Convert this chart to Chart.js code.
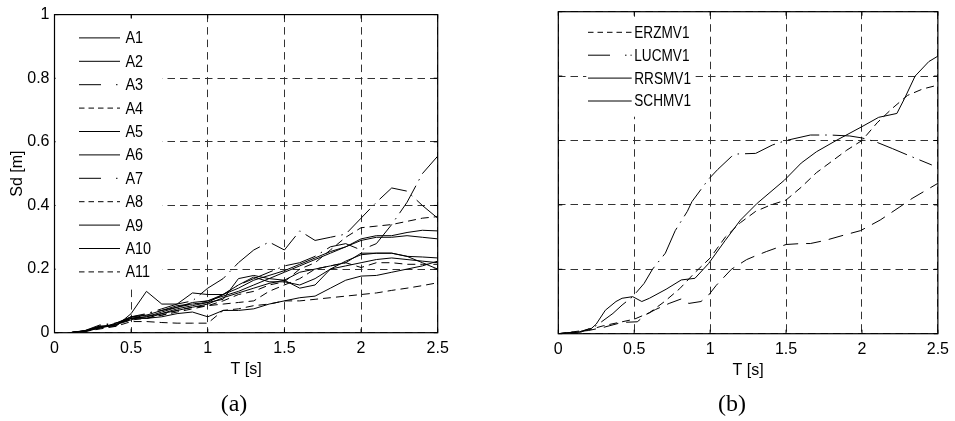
<!DOCTYPE html>
<html>
<head>
<meta charset="utf-8">
<title>Sd spectra</title>
<script src="https://cdn.jsdelivr.net/npm/chart.js@4.4.1/dist/chart.umd.min.js"></script>
<style>
  html, body { margin: 0; padding: 0; background: #fff; }
  body { width: 955px; height: 421px; position: relative; overflow: hidden; }
  .panel { position: absolute; top: 0; height: 421px; }
  #panel-a { left: 0; width: 480px; }
  #panel-b { left: 480px; width: 475px; }
  .caption {
    position: absolute; transform: translate(-50%, -50%);
    font: 24px "Liberation Serif", "Times New Roman", serif;
    line-height: 1; color: #000; white-space: nowrap;
  }
</style>
</head>
<body>
<div class="panel" id="panel-a"><canvas id="chart-a"></canvas></div>
<div class="panel" id="panel-b"><canvas id="chart-b"></canvas></div>
<div class="caption" style="left:234px; top:403px">(a)</div>
<div class="caption" style="left:732px; top:403px">(b)</div>
<script>
'use strict';

/* ---- axes ---- */
const X_TICKS = [0, 0.5, 1, 1.5, 2, 2.5];
const X_TICK_LABELS = ['0', '0.5', '1', '1.5', '2', '2.5'];
const Y_TICKS = [0, 0.2, 0.4, 0.6, 0.8, 1];
const Y_TICK_LABELS = ['0', '0.2', '0.4', '0.6', '0.8', '1'];

/* ---- panel (a): records A1..A11, Sd [m] per period T [s] ---- */
const T_A = [0.1, 0.2, 0.3, 0.4, 0.5, 0.6, 0.7, 0.8, 0.9, 1.0, 1.1, 1.2, 1.3,
  1.4, 1.5, 1.6, 1.7, 1.8, 1.9, 2.0, 2.1, 2.2, 2.3, 2.4, 2.5];
const A1 = [0, .006, .02, .022, .05, .055, .07, .085, .09, .095, .12, .14, .165, .18, .195, .215, .235, .255, .27, .295, .305, .305, .315, .322, .32];
const A2 = [0, .005, .018, .025, .045, .05, .065, .08, .095, .1, .115, .13, .15, .17, .19, .21, .23, .25, .27, .29, .3, .3, .305, .3, .295];
const A3 = [0, .006, .022, .03, .04, .06, .075, .09, .1, .14, .17, .22, .26, .285, .26, .32, .29, .3, .31, .36, .41, .455, .445, .4, .36];
const A4 = [0, .004, .012, .02, .035, .035, .032, .03, .03, .03, .07, .075, .085, .09, .1, .1, .105, .11, .115, .12, .125, .133, .14, .148, .157];
const A5 = [0, .005, .015, .025, .05, .045, .06, .07, .08, .09, .11, .125, .14, .155, .165, .19, .2, .21, .22, .25, .25, .25, .24, .238, .235];
const A6 = [0, .005, .02, .025, .045, .05, .06, .075, .085, .095, .105, .17, .18, .17, .165, .14, .15, .2, .21, .22, .23, .235, .23, .225, .22];
const A7 = [0, .007, .025, .03, .05, .06, .07, .08, .09, .1, .12, .15, .17, .19, .21, .22, .24, .27, .28, .26, .28, .34, .41, .5, .555];
const A8 = [0, .005, .015, .028, .05, .055, .055, .065, .075, .085, .1, .12, .13, .15, .16, .2, .22, .26, .3, .33, .335, .34, .35, .36, .365];
const A9 = [0, .006, .02, .02, .06, .13, .09, .09, .125, .12, .12, .15, .175, .16, .16, .15, .17, .2, .225, .245, .25, .25, .24, .22, .2];
const A10 = [0, .004, .015, .03, .045, .045, .05, .06, .065, .05, .07, .07, .075, .09, .1, .11, .115, .14, .165, .178, .18, .19, .2, .21, .225];
const A11 = [0, .005, .018, .025, .04, .045, .055, .07, .08, .085, .09, .095, .1, .13, .15, .17, .2, .21, .22, .205, .22, .22, .215, .215, .215];
const NAMES_A = ['A1', 'A2', 'A3', 'A4', 'A5', 'A6', 'A7', 'A8', 'A9', 'A10', 'A11'];
const VALUES_A = [A1, A2, A3, A4, A5, A6, A7, A8, A9, A10, A11];
const STYLE_A = ['solid', 'solid', 'dashdot', 'dash', 'solid', 'solid', 'dashdot', 'dash', 'solid', 'solid', 'dash'];

/* ---- panel (b): four stations ---- */
const T_ERZ = [0, .2, .3, .4, .5, .6, .7, .8, .9, 1.0, 1.1, 1.2, 1.3, 1.4, 1.5, 1.6, 1.7, 1.8, 1.9, 2.0, 2.1, 2.2, 2.3, 2.4, 2.5];
const V_ERZ = [0, .012, .025, .035, .045, .065, .1, .14, .19, .235, .3, .345, .38, .4, .415, .455, .5, .535, .57, .6, .655, .7, .74, .76, .772];
const T_LUC = [0, .15, .25, .36, .42, .49, .565, .62, .705, .77, .85, .88, .99, 1.05, 1.14, 1.17, 1.3, 1.41, 1.5, 1.66, 1.79, 1.92, 2.0, 2.09, 2.2, 2.3, 2.46];
const V_LUC = [0, .005, .025, .063, .089, .115, .156, .2, .25, .32, .38, .41, .48, .51, .55, .558, .56, .586, .6, .617, .617, .614, .608, .596, .575, .555, .524];
const T_RRS = [0, .14, .22, .25, .31, .38, .42, .49, .55, .6, .71, .81, .9, .99, 1.1, 1.2, 1.31, 1.49, 1.6, 1.7, 1.83, 2.0, 2.11, 2.23, 2.28, 2.35, 2.44, 2.5];
const V_RRS = [0, .006, .017, .03, .073, .1, .11, .115, .1, .11, .138, .167, .172, .218, .29, .353, .405, .477, .53, .565, .6, .643, .672, .684, .73, .8, .845, .862];
const T_SCH = [0, .2, .3, .42, .52, .58, .64, .73, .81, .86, .94, .99, 1.04, 1.14, 1.24, 1.29, 1.37, 1.5, 1.6, 1.66, 1.76, 1.88, 1.99, 2.03, 2.12, 2.25, 2.33, 2.5];
const V_SCH = [0, .01, .02, .035, .037, .06, .075, .094, .108, .094, .1, .12, .15, .2, .23, .24, .255, .277, .28, .28, .29, .306, .32, .33, .353, .394, .42, .467];
const NAMES_B = ['ERZMV1', 'LUCMV1', 'RRSMV1', 'SCHMV1'];
const TIMES_B = [T_ERZ, T_LUC, T_RRS, T_SCH];
const VALUES_B = [V_ERZ, V_LUC, V_RRS, V_SCH];
const STYLE_B = ['dash', 'dashdot', 'solid', 'longdash'];
const KEY_STYLE_B = ['dash', 'dashdot', 'solid', 'solid'];

/* dash patterns on the curves and on the key samples */
const PLOT_DASH = { solid: [], dash: [8, 5], dashdot: [32, 6, 1.5, 6], longdash: [15, 8] };
const KEY_DASH = { solid: [], dash: [5.5, 4], dashdot: [22, 15, 1.5, 4], longdash: [15, 8] };

const GRID_COLOR = '#333';
const GRID_DASH = [7.5, 5];

Chart.defaults.font.family = '"Liberation Sans", Arial, sans-serif';
Chart.defaults.font.size = 16;
Chart.defaults.color = '#000';

/* box around the axes plus MATLAB-style inward ticks */
const framePlugin = {
  id: 'frame',
  afterDatasetsDraw(chart) {
    const { ctx, chartArea: a, scales } = chart;
    const len = 4;
    ctx.save();
    ctx.strokeStyle = '#000';
    ctx.lineWidth = 1;
    ctx.beginPath();
    scales.x.ticks.forEach((t) => {
      const px = scales.x.getPixelForValue(t.value);
      ctx.moveTo(px, a.bottom); ctx.lineTo(px, a.bottom - len);
      ctx.moveTo(px, a.top); ctx.lineTo(px, a.top + len);
    });
    scales.y.ticks.forEach((t) => {
      const py = scales.y.getPixelForValue(t.value);
      ctx.moveTo(a.left, py); ctx.lineTo(a.left + len, py);
      ctx.moveTo(a.right, py); ctx.lineTo(a.right - len, py);
    });
    ctx.stroke();
    ctx.restore();
  },
  afterDraw(chart) {
    const { ctx, chartArea: a } = chart;
    ctx.save();
    ctx.strokeStyle = '#000';
    ctx.lineWidth = 1.2;
    ctx.strokeRect(a.left, a.top, a.right - a.left, a.bottom - a.top);
    ctx.restore();
  },
};

/* key drawn inside the axes on a white patch (no border) */
const keyPlugin = {
  id: 'key',
  afterDatasetsDraw(chart, args, o) {
    const { ctx, chartArea: a } = chart;
    ctx.save();
    ctx.fillStyle = '#fff';
    ctx.fillRect(a.left + o.boxX, a.top + o.boxTop, o.boxW, o.boxH);
    ctx.font = `${o.fontSize}px "Liberation Sans", Arial, sans-serif`;
    ctx.textBaseline = 'middle';
    ctx.textAlign = 'left';
    chart.data.datasets.forEach((ds, i) => {
      const y = a.top + o.firstRow + i * o.rowGap;
      ctx.strokeStyle = '#000';
      ctx.lineWidth = 1;
      ctx.setLineDash(ds.keyDash);
      ctx.beginPath();
      ctx.moveTo(a.left + o.lineX0, y);
      ctx.lineTo(a.left + o.lineX1, y);
      ctx.stroke();
      ctx.setLineDash([]);
      ctx.save();
      ctx.translate(a.left + o.textX, y + 1);
      ctx.scale(o.squeeze, 1);
      ctx.fillStyle = '#000';
      ctx.fillText(ds.label, 0, 0);
      ctx.restore();
    });
    ctx.restore();
  },
};

function scalesFor(p) {
  return {
    x: {
      type: 'linear', min: 0, max: 2.5,
      afterBuildTicks: (s) => { s.ticks = X_TICKS.map((v) => ({ value: v })); },
      afterFit: (s) => { s.height = p.xAxisHeight; },
      ticks: { callback: (v, i) => X_TICK_LABELS[i], padding: 6, maxRotation: 0, autoSkip: false },
      grid: { color: GRID_COLOR, lineWidth: 1, drawTicks: false },
      border: { display: false, dash: GRID_DASH },
      title: { display: true, text: 'T [s]', font: { size: 16 }, padding: { top: 0, bottom: p.xTitlePad } },
    },
    y: {
      type: 'linear', min: 0, max: 1,
      afterBuildTicks: (s) => { s.ticks = Y_TICKS.map((v) => ({ value: v })); },
      afterFit: (s) => { s.width = p.yAxisWidth; },
      ticks: { display: p.yLabels, callback: (v, i) => Y_TICK_LABELS[i], padding: 5 },
      grid: { color: GRID_COLOR, lineWidth: 1, drawTicks: false },
      border: { display: false, dash: GRID_DASH },
      title: { display: p.yLabels, text: 'Sd [m]', font: { size: 16 }, padding: { top: 8, bottom: 0 } },
    },
  };
}

function makeChart(id, datasets, p) {
  return new Chart(document.getElementById(id), {
    type: 'line',
    data: { datasets },
    options: {
      responsive: true,
      maintainAspectRatio: false,
      animation: false,
      parsing: false,
      layout: { padding: p.padding },
      elements: { point: { radius: 0 }, line: { tension: 0, borderWidth: 1 } },
      plugins: { legend: { display: false }, tooltip: { enabled: false }, key: p.key },
      scales: scalesFor(p),
    },
    plugins: [framePlugin, keyPlugin],
  });
}

const datasetsA = NAMES_A.map((name, i) => ({
  label: name,
  data: T_A.map((t, j) => ({ x: t, y: VALUES_A[i][j] })),
  borderColor: '#000',
  borderDash: PLOT_DASH[STYLE_A[i]],
  keyDash: KEY_DASH[STYLE_A[i]],
  fill: false,
}));

const datasetsB = NAMES_B.map((name, i) => ({
  label: name,
  data: TIMES_B[i].map((t, j) => ({ x: t, y: VALUES_B[i][j] })),
  borderColor: '#000',
  borderDash: PLOT_DASH[STYLE_B[i]],
  keyDash: KEY_DASH[KEY_STYLE_B[i]],
  fill: false,
}));

makeChart('chart-a', datasetsA, {
  padding: { left: 0, top: 12.7, right: 42.3, bottom: 40 },
  xAxisHeight: 48.3, xTitlePad: 2, yAxisWidth: 54.5, yLabels: true,
  key: { boxX: 1, boxTop: 4, boxW: 107, boxH: 268, firstRow: 23.3, rowGap: 23.4,
    lineX0: 24.5, lineX1: 65.5, textX: 71, fontSize: 16, squeeze: 0.9 },
});

makeChart('chart-b', datasetsB, {
  padding: { left: 0, top: 11.7, right: 12.7, bottom: 40 },
  xAxisHeight: 47.3, xTitlePad: 1, yAxisWidth: 78.3, yLabels: false,
  key: { boxX: 28, boxTop: 5, boxW: 109, boxH: 100, firstRow: 20.6, rowGap: 22.9,
    lineX0: 29.7, lineX1: 73.4, textX: 76, fontSize: 16, squeeze: 0.85 },
});
</script>
</body>
</html>
